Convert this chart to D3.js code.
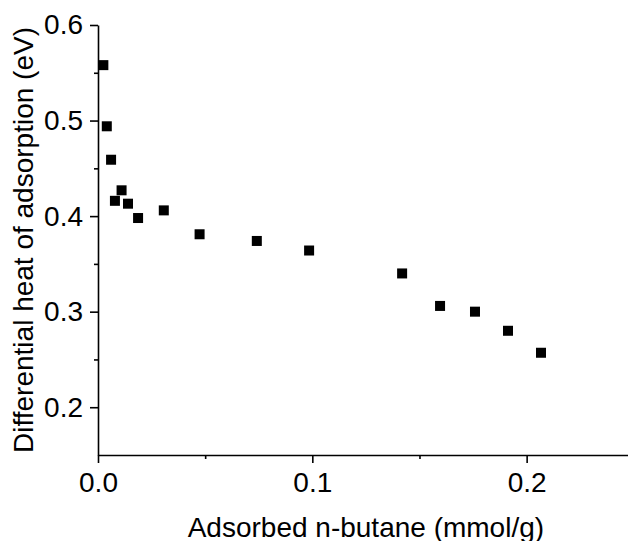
<!DOCTYPE html>
<html>
<head>
<meta charset="utf-8">
<script src="https://cdn.jsdelivr.net/npm/d3@7"></script>
<style>
  body { margin: 0; background: #fff; }
  svg { display: block; }
  .axis text { font-family: "Liberation Sans", Arial, sans-serif; font-size: 28px; fill: #000; }
  .axis path, .axis line { stroke: #000; stroke-width: 1.6; }
  .label { font-family: "Liberation Sans", Arial, sans-serif; font-size: 28px; fill: #000; }
</style>
</head>
<body>
<div id="chart"></div>
<script>
// adsorbed n-butane (mmol/g)
var adsorbed = [0.0025, 0.0041, 0.0061, 0.0079, 0.0110, 0.0140, 0.0187, 0.0307,
                0.0474, 0.0741, 0.0985, 0.1419, 0.1596, 0.1759, 0.1913, 0.2067];
// differential heat of adsorption (eV)
var heat = [0.558, 0.494, 0.459, 0.416, 0.427, 0.413, 0.398, 0.406,
            0.381, 0.374, 0.364, 0.340, 0.306, 0.300, 0.280, 0.257];

var xTicks = [0.0, 0.1, 0.2];
var xMinor = [0.05, 0.15, 0.25];
var yTicks = [0.2, 0.3, 0.4, 0.5, 0.6];
var yMinor = [0.25, 0.35, 0.45, 0.55];

var width = 628, height = 541;
var margin = {top: 25, left: 98, bottom: 86};

var svg = d3.select("#chart")
    .append("svg")
    .attr("width", width)
    .attr("height", height);

var x = d3.scaleLinear()
    .domain([0, 0.25])
    .range([margin.left, margin.left + 535.8]);

var y = d3.scaleLinear()
    .domain([0.15, 0.6])
    .range([height - margin.bottom, margin.top]);

var fmt = d3.format(".1f");

// x axis
svg.append("g")
    .attr("class", "axis")
    .attr("transform", "translate(0," + y(0.15) + ")")
    .call(d3.axisBottom(x).tickValues(xTicks).tickFormat(fmt).tickSize(8).tickSizeOuter(0).tickPadding(9))
    ;
svg.append("g")
    .attr("class", "axis")
    .attr("transform", "translate(0," + y(0.15) + ")")
    .call(d3.axisBottom(x).tickValues(xMinor).tickFormat("").tickSize(4).tickSizeOuter(0))
    .select(".domain").remove();

// y axis
svg.append("g")
    .attr("class", "axis")
    .attr("transform", "translate(" + x(0) + ",0)")
    .call(d3.axisLeft(y).tickValues(yTicks).tickFormat(fmt).tickSize(8).tickSizeOuter(0).tickPadding(7))
    ;
svg.append("g")
    .attr("class", "axis")
    .attr("transform", "translate(" + x(0) + ",0)")
    .call(d3.axisLeft(y).tickValues(yMinor).tickFormat("").tickSize(4).tickSizeOuter(0))
    .select(".domain").remove();

// titles
svg.append("text")
    .attr("class", "label")
    .attr("x", (x(0) + x(0.25)) / 2)
    .attr("y", 537)
    .attr("text-anchor", "middle")
    .text("Adsorbed n-butane (mmol/g)");

svg.append("text")
    .attr("class", "label")
    .attr("transform", "translate(33," + (y(0.15) + y(0.6)) / 2 + ") rotate(-90)")
    .attr("text-anchor", "middle")
    .text("Differential heat of adsorption (eV)");

// points
var pts = adsorbed.map(function (d, i) { return {x: d, y: heat[i]}; });
var s = 10;
svg.append("g")
    .selectAll("rect")
    .data(pts)
    .join("rect")
    .attr("x", d => x(d.x) - s / 2)
    .attr("y", d => y(d.y) - s / 2)
    .attr("width", s)
    .attr("height", s)
    .attr("fill", "#000");
</script>
</body>
</html>
